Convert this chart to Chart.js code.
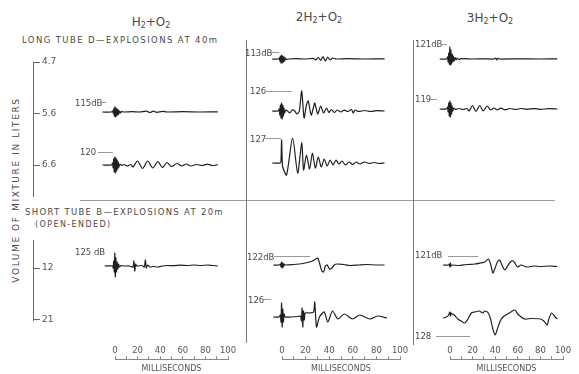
<!DOCTYPE html>
<html>
<head>
<meta charset="utf-8">
<script src="https://cdn.jsdelivr.net/npm/chart.js@4.4.1/dist/chart.umd.min.js"></script>
<style>
  body { margin: 0; width: 579px; height: 374px; overflow: hidden; position: relative; background: #fff;
         font-family: "DejaVu Sans", sans-serif; color: #4a4a4a; }
  canvas { position: absolute; }
  .t { position: absolute; white-space: nowrap; line-height: 1; transform: translateY(-50%); font-size: 8.5px; }
  .c { transform: translate(-50%, -50%); }
  .rule { position: absolute; background: #8a8a8a; }
  .ttl { font-size: 12px; }
  .ttl sub { font-size: 8px; vertical-align: -2px; }
</style>
</head>
<body>
<script>
// volume tick labels (litres)
var volumeLong = ['4.7', '5.6', '6.6'];
var volumeShort = ['12', '21'];
var msTicks = [0, 20, 40, 60, 80, 100];

// traces: [milliseconds, deflection]
// long tube, H2+O2
var h2Long115 = [[-11,0],[-3,0],[-2,1],[-1.5,-1],[-1,3],[-0.5,-4],[0,5],[0.5,-5],[1,4],[1.5,-4],[2,3],[2.5,-3],[3,2],[3.5,-2],[4.2,1],[5,-1],[6,0.5],[8,0],[15,0.3],[22,0],[28,0.8],[31,-0.5],[34,0.8],[37,-0.3],[42,0.6],[46,0],[60,0.3],[75,0],[91,0.2]];
var h2Long120 = [[-11,0],[-3,0],[-2,2],[-1.5,-3],[-1,6],[-0.5,-7],[0,8],[0.5,-8],[1,7],[1.5,-6],[2,5],[2.5,-4],[3,3],[3.5,-2],[4.5,1],[6,-0.5],[8,0.5],[11,-1],[14,0.5],[16,-2],[20,4],[24.5,-3.5],[29,4],[33.5,-3],[38,3.5],[42,-2.5],[46,2.5],[50,-1.5],[55,1.5],[59,-1],[63,1],[67,-1],[72,0.5],[77,-0.5],[82,0.8],[86,-0.5],[91,0.3]];
// long tube, 2H2+O2
var h22Long113 = [[-8,0],[-3,0],[-2,1],[-1.5,-2],[-1,3],[-0.5,-4],[0,4],[0.5,-4],[1,3],[1.5,-3],[2,2],[2.5,-2],[3.2,1],[4,-0.5],[6,0],[12,0.3],[20,0],[27,0.5],[29,-1],[31,1.5],[33,-1.5],[35,2.5],[37,-2],[39,2],[41,-1],[43,1],[46,0],[55,0.3],[70,0],[87,0.2]];
var h22Long126 = [[-8,0],[-3,0],[-2,2],[-1.5,-4],[-1,6],[-0.5,-7],[0,8],[0.5,-8],[1,6],[1.5,-5],[2,3],[2.5,-2],[3.5,1],[5,0],[7,-2],[9,1],[11,0],[13,-3],[15,0],[17,20],[19,-7],[21,6],[22.5,10],[25,-4],[27,4],[28,8],[30.5,-3],[33,5],[35.5,-2],[38,3],[40,-1.5],[42,1.5],[44.5,-1.5],[47,1],[50,-1],[53,0.8],[56,-0.5],[59,1.5],[60.5,-2],[62,1],[65,-0.5],[70,0.5],[75,-0.5],[80,0.3],[87,0]];
var h22Long127 = [[-8,0],[-1,0],[-0.5,2],[0,23],[0.5,5],[1,-4],[4.2,-12],[9.3,25],[13.6,-10],[17,20],[18.6,-7],[21,8],[23.7,-6],[26,10],[28.5,-5],[31,6],[33.5,-4],[36,4],[38.5,-3],[41,3],[43.5,-2],[46,3],[48.5,-1],[51,2],[54,-2],[57,1],[60,-1.5],[63,1],[66,-1],[70,1],[74,-0.5],[78,0.5],[82,-0.5],[87,0]];
// long tube, 3H2+O2
var h23Long121 = [[-9,0],[-3,0],[-2,2],[-1.5,-3],[-1,6],[-0.5,-5],[0,12],[0.4,-6],[0.9,9],[1.4,-5],[2,5],[2.5,-3],[3,3],[3.7,-2],[4.5,1.5],[5.5,-1],[6.5,0.8],[8,-0.5],[10,0.3],[20,0],[30,0.2],[39,0],[40.5,1],[41.5,-1],[42.5,0.8],[44,0],[60,0.2],[80,0],[95,0.1]];
var h23Long119 = [[-9,0],[-3,0],[-2,2],[-1.5,-3],[-1,6],[-0.5,-7],[0,8],[0.5,-8],[1,6],[1.5,-5],[2,3],[2.5,-2],[3.5,1],[5,-0.5],[8,0.5],[12,-0.5],[15,0.5],[17,-2],[20,3.5],[23,-2.5],[26.5,3.5],[29.5,-2],[33,3],[36,-1],[39,1],[42,-1],[45,0.8],[49,-0.8],[53,0.5],[58,-0.5],[63,0.5],[68,-0.3],[74,0.4],[80,-0.3],[87,0.3],[95,0]];
// short tube
var h2Short125 = [[-9,0],[-2,0],[-1.5,-2],[-1,5],[-0.5,-6],[0,13],[0.4,-11],[0.9,8],[1.4,-6],[2,4],[2.6,-3],[3.3,2],[4,-1],[5.5,0.5],[8,0],[13,0],[16,-1],[16.8,5],[17.6,-5],[18.4,2],[19.5,0],[24,0.5],[26,-1],[27,6],[27.8,-2],[29,1],[31,-1],[34,-0.5],[38,-1],[42,0],[46,0.5],[52,0.3],[58,0.8],[64,0.5],[70,1],[76,0.5],[82,1],[86,0.5],[91,0]];
var h22Short122 = [[-7,0],[-2,0],[-1,1],[-0.5,-2],[0,3],[0.5,-3],[1,2],[1.5,-2],[2.2,1],[3,0],[10,0.5],[18,1.5],[25,3.5],[29,6],[30.5,7],[32,2],[34,-6],[35.5,-7],[37,-1],[38.5,0],[40.5,-4],[42.5,-3],[44.5,0],[47,1],[52,0.5],[58,-0.5],[65,0],[72,0.5],[80,0],[87,0]];
var h22Short126 = [[-7,0],[-2,0],[-1,2],[-0.5,-5],[0,14],[0.5,-10],[1,8],[1.5,-5],[2.2,3],[3,0],[8,0],[14,0.5],[16,1],[16.8,-4],[17.3,9],[17.9,-10],[18.5,6],[19.2,-3],[20,4],[24,4],[27,5],[28,15],[29.5,-10],[32,0],[36,5],[39,-5],[43,6],[47.5,-2],[53,3],[60,-2],[66,2],[74.5,-2],[81,1],[89,-1]];
var h23Short121 = [[-6,0],[-1,0],[-0.5,1],[0,-2],[0.5,2],[1,-1],[2,0],[8,-0.5],[15,0.5],[22,1],[27,2],[31,3],[34,6],[36,1],[38,-8],[40,-3],[42,3],[44,5],[46,0],[48.5,-5],[51,-1],[53.5,3],[56,4],[58,1],[60,-2],[63,0],[68,-2],[74,-1],[80,-1.5],[88,-1],[95,-1.5]];
var h23Short128 = [[-6,-1],[-3,0],[-1,2],[0,5],[0.5,1],[1,4],[2,3],[4,2],[7,-2],[10,-4],[13,-6],[16,-2],[19,4],[22,5],[26,6],[29,4],[31,6],[34,4],[36,-2],[38,-12],[40,-18],[42,-12],[44.5,-4],[47,0],[51,3],[54,5],[57.5,7],[60,3],[62,1],[66,-2],[72,-1.5],[80,-2],[83,-4],[86,-8],[87.5,-2],[90,4],[93,0],[95,-2]];

// page layout
var cols = [{ x0: 115, ppm: 1.13 }, { x0: 282, ppm: 1.18 }, { x0: 450, ppm: 1.13 }];
var T_MIN = -14, T_MAX = 100, HALF = 25;

var traces = [
  { data: h2Long115,   col: 0, base: 112 },
  { data: h2Long120,   col: 0, base: 165 },
  { data: h22Long113,  col: 1, base: 59 },
  { data: h22Long126,  col: 1, base: 111 },
  { data: h22Long127,  col: 1, base: 163 },
  { data: h23Long121,  col: 2, base: 59 },
  { data: h23Long119,  col: 2, base: 109 },
  { data: h2Short125,  col: 0, base: 266 },
  { data: h22Short122, col: 1, base: 265 },
  { data: h22Short126, col: 1, base: 317 },
  { data: h23Short121, col: 2, base: 265 },
  { data: h23Short128, col: 2, base: 317 }
];

var labels = [
  ['115dB', 75, 103], ['120', 80, 152], ['113dB', 245, 53], ['126', 250, 91], ['127', 250, 139],
  ['121dB', 415, 44], ['119', 415, 99], ['125 dB', 75, 252], ['122dB', 247, 257], ['126', 248, 300],
  ['121dB', 415, 255], ['128', 415, 336]
];
var dashes = [
  [99, 106, 102], [98, 113, 152], [271, 279, 52], [265, 292, 91], [265, 281, 138],
  [442, 447, 44], [430, 437, 99], [274, 310, 256], [262, 271, 299], [448, 478, 256], [436, 470, 336]
];

function addCanvas(left, top, w, h) {
  var c = document.createElement('canvas');
  c.width = Math.round(w); c.height = Math.round(h);
  c.style.left = Math.round(left) + 'px'; c.style.top = Math.round(top) + 'px';
  document.body.appendChild(c);
  return c;
}
function addText(html, left, top, cls, extra) {
  var d = document.createElement('div');
  d.className = 't ' + (cls || '');
  d.innerHTML = html;
  d.style.left = left + 'px'; d.style.top = top + 'px';
  if (extra) d.style.cssText += extra;
  document.body.appendChild(d);
}
function addRule(left, top, w, h, color) {
  var d = document.createElement('div');
  d.className = 'rule';
  d.style.cssText += 'left:' + left + 'px;top:' + top + 'px;width:' + w + 'px;height:' + h + 'px;' + (color ? 'background:' + color : '');
  document.body.appendChild(d);
}

var baseOpts = {
  responsive: false,
  animation: false,
  events: [],
  plugins: { legend: { display: false }, tooltip: { enabled: false } }
};

// the traces
traces.forEach(function(tr) {
  var col = cols[tr.col];
  var cv = addCanvas(col.x0 + T_MIN * col.ppm, tr.base - HALF, (T_MAX - T_MIN) * col.ppm, HALF * 2);
  new Chart(cv, {
    type: 'line',
    data: { datasets: [{ data: tr.data, borderColor: '#1f1f1f', borderWidth: 1.2, pointRadius: 0, tension: 0.25, fill: false }] },
    options: Object.assign({}, baseOpts, {
      layout: { padding: 0 },
      scales: {
        x: { type: 'linear', min: T_MIN, max: T_MAX, display: false },
        y: { type: 'linear', min: -HALF, max: HALF, display: false }
      }
    })
  });
});

// millisecond axes under each column
cols.forEach(function(col) {
  var pad = 12;
  var cv = addCanvas(col.x0 - pad, 346, 100 * col.ppm + pad * 2, 28);
  new Chart(cv, {
    type: 'line',
    data: { datasets: [] },
    options: Object.assign({}, baseOpts, {
      layout: { padding: { left: pad, right: pad, top: 0, bottom: 0 } },
      plugins: {
        legend: { display: false }, tooltip: { enabled: false },
        title: { display: true, text: 'MILLISECONDS', position: 'bottom', color: '#555', padding: 0,
                 font: { family: 'DejaVu Sans', size: 8, weight: 'normal' } }
      },
      scales: {
        x: {
          type: 'linear', position: 'top', min: 0, max: 100,
          ticks: { stepSize: 10, autoSkip: false, maxRotation: 0, padding: 0, color: '#555',
                   font: { family: 'DejaVu Sans', size: 8.5 },
                   callback: function(v) { return msTicks.indexOf(v) >= 0 ? String(v) : ''; } },
          grid: { drawOnChartArea: false, tickLength: 3, color: '#888' },
          border: { color: '#888' }
        },
        y: { display: false }
      }
    })
  });
});

// volume scales on the left
function volumeAxis(names, top, bottom, first) {
  var ppu = 51.5, pad = 8;
  var min = -(first - top) / ppu;
  var max = (bottom - first) / ppu;
  var cv = addCanvas(31, top - pad, 34, bottom - top + pad * 2);
  new Chart(cv, {
    type: 'line',
    data: { datasets: [] },
    options: Object.assign({}, baseOpts, {
      layout: { padding: { left: 0, right: 0, top: pad, bottom: pad } },
      scales: {
        x: { type: 'linear', display: false },
        y: {
          type: 'linear', position: 'right', reverse: true, min: min, max: max,
          afterBuildTicks: function(s) {
            s.ticks = names.map(function(n, i) { return { value: i }; });
          },
          afterFit: function(s) { s.width = 32; },
          ticks: { stepSize: 1, padding: 2, color: '#555', font: { family: 'DejaVu Sans', size: 9 },
                   callback: function(v) { return names[Math.round(v)]; } },
          grid: { drawOnChartArea: false, tickLength: 7, color: '#666' },
          border: { color: '#666' }
        }
      }
    })
  });
}
volumeAxis(volumeLong, 62, 196, 62);
volumeAxis(volumeShort, 240, 320, 268);

// frame rules
addRule(80, 200, 475, 1, '#999');
addRule(246, 40, 1, 303, '#777');
addRule(413, 40, 1, 305, '#777');

// texts
addText('H<sub>2</sub>+O<sub>2</sub>', 151, 23, 'c ttl');
addText('2H<sub>2</sub>+O<sub>2</sub>', 319, 18, 'c ttl');
addText('3H<sub>2</sub>+O<sub>2</sub>', 490, 19, 'c ttl');
addText('LONG TUBE D\u2014EXPLOSIONS AT 40m', 22, 40, '', 'font-size:8.5px;letter-spacing:1.4px');
addText('SHORT TUBE B\u2014EXPLOSIONS AT 20m', 25, 212, '', 'font-size:8.5px;letter-spacing:1.3px');
addText('(OPEN-ENDED)', 35, 225, '', 'font-size:8px;letter-spacing:1.4px');
addText('VOLUME OF MIXTURE IN LITERS', 16, 190, 'c', 'transform:translate(-50%,-50%) rotate(-90deg);font-size:9px;letter-spacing:1.6px');
labels.forEach(function(l) { addText(l[0], l[1], l[2]); });
dashes.forEach(function(d) { addRule(d[0], d[2], d[1] - d[0], 1, '#999'); });
</script>
</body>
</html>
